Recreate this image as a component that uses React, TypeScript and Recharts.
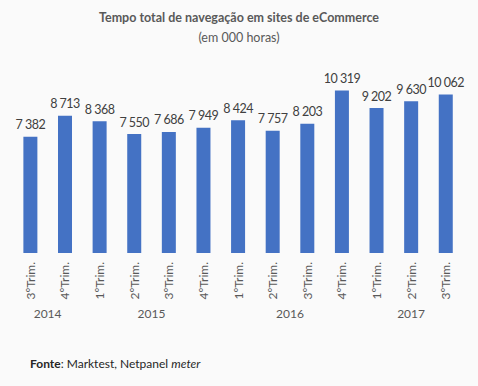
import React from 'react';
import { BarChart, Bar, XAxis, YAxis, LabelList } from 'recharts';

const quarters = ['3ºTrim.', '4ºTrim.', '1ºTrim.', '2ºTrim.', '3ºTrim.', '4ºTrim.', '1ºTrim.', '2ºTrim.', '3ºTrim.', '4ºTrim.', '1ºTrim.', '2ºTrim.', '3ºTrim.'];
const values = [7382, 8713, 8368, 7550, 7686, 7949, 8424, 7757, 8203, 10319, 9202, 9630, 10062];
const years = ['2014', '2015', '2016', '2017'];
const yearCounts = [2, 4, 4, 3];

const data = quarters.map((q, i) => ({ key: `${i}`, q, v: values[i] }));

const yearStart: Record<number, { year: string; count: number }> = {};
{
  let idx = 0;
  years.forEach((y, i) => {
    yearStart[idx] = { year: y, count: yearCounts[i] };
    idx += yearCounts[i];
  });
}

const FONT = 'Lato, "Open Sans", sans-serif';

const fmt = (v: any) => String(v).replace(/\B(?=(\d{3})+(?!\d))/g, ' ');

const Tick = (props: any) => {
  const { x, y, payload, index } = props;
  const i = typeof index === 'number' ? index : payload.index;
  const label = quarters[i];
  const grp = yearStart[i];
  const off = payload.offset || 0;
  return (
    <g>
      <text
        x={x}
        y={y + 1}
        transform={`rotate(-90, ${x}, ${y + 1})`}
        textAnchor="end"
        dominantBaseline="central"
        fontSize={12}
        fill="#595959"
        fontFamily={FONT}
      >
        {label}
      </text>
      {grp && (
        <text
          x={x + (grp.count - 1) * off}
          y={y + 52}
          textAnchor="middle"
          dominantBaseline="central"
          fontSize={12}
          fill="#595959"
          fontFamily={FONT}
        >
          {grp.year}
        </text>
      )}
    </g>
  );
};

const ValueLabel = (props: any) => {
  const { x, y, width, value } = props;
  return (
    <text
      x={x + width / 2}
      y={y - 12}
      textAnchor="middle"
      dominantBaseline="central"
      fontSize={12.5}
      letterSpacing={-0.5}
      fill="#404040"
      fontFamily={FONT}
      style={{ whiteSpace: 'pre' }}
    >
      {fmt(value)}
    </text>
  );
};

export default function App() {
  return (
    <div style={{ position: 'absolute', left: 0, top: 0, width: 478, height: 386, background: '#fafafa', fontFamily: FONT }}>
      <div style={{ position: 'absolute', top: 10, left: 0, width: 478, textAlign: 'center', fontSize: 12.5, fontWeight: 700, color: '#595959', lineHeight: '16px' }}>
        Tempo total de navegação em sites de eCommerce
      </div>
      <div style={{ position: 'absolute', top: 30, left: 0, width: 478, textAlign: 'center', fontSize: 12.5, color: '#595959', lineHeight: '16px' }}>
        (em 000 horas)
      </div>
      <BarChart
        width={478}
        height={386}
        data={data}
        margin={{ top: 64, right: 15, bottom: 0, left: 13 }}
        barCategoryGap="30%"
      >
        <XAxis dataKey="key" height={133} tickLine={false} axisLine={false} interval={0} tick={<Tick />} />
        <YAxis hide domain={[0, 12000]} />
        <Bar dataKey="v" fill="#4472C4" isAnimationActive={false}>
          <LabelList dataKey="v" content={<ValueLabel />} />
        </Bar>
      </BarChart>
      <div style={{ position: 'absolute', top: 356, left: 30, fontSize: 12, color: '#262626', lineHeight: '16px' }}>
        <b>Fonte</b>: Marktest, Netpanel <i>meter</i>
      </div>
    </div>
  );
}
